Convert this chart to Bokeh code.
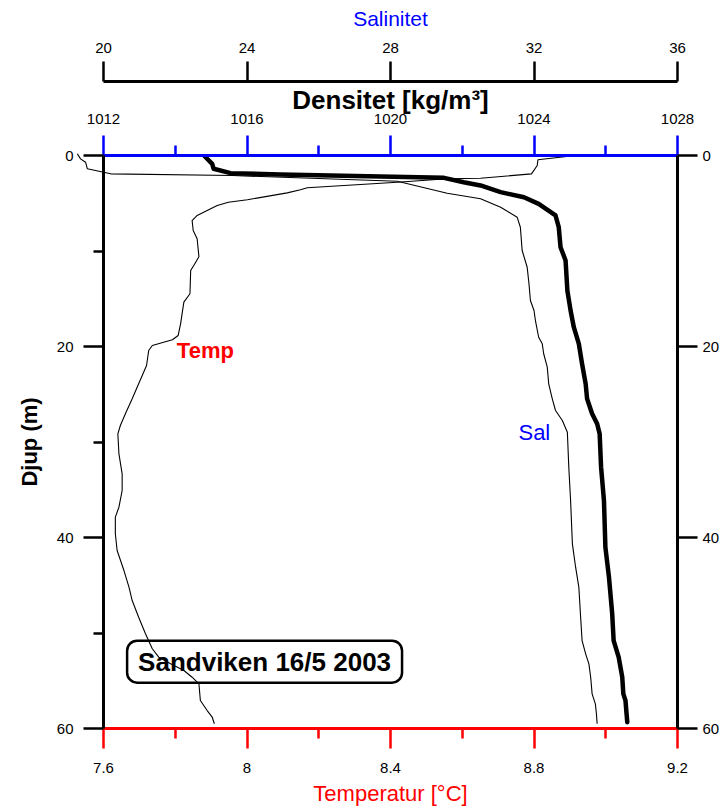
from bokeh.plotting import figure
from bokeh.models import (Range1d, LinearAxis, FixedTicker, CustomJSTickFormatter, Label)
from bokeh.embed import file_html
from bokeh.resources import INLINE

# ---------------- data ----------------
temp_depth = [0.0, 0.45, 1.05, 1.92, 2.38, 2.44, 2.80, 3.38, 3.59, 3.91, 4.64, 4.89, 5.24,
              6.28, 6.81, 7.85, 8.72, 10.6, 11.5, 12.04, 14.48, 15.36, 16.58, 17.6, 18.85,
              19.30, 19.9, 20.42, 21.99, 23.04, 23.9, 25.48, 27.05, 28.27, 29.14, 31.24,
              33.33, 35.08, 36.83, 37.87, 39.61, 41.36, 43.46, 45.2, 46.6, 48.35, 50.08,
              51.65, 52.53, 53.23, 53.93, 54.63, 55.32, 57.07, 58.12, 58.8, 59.5]
temperature = [8.916, 8.811, 8.809, 8.793, 8.651, 8.558, 8.419, 8.168, 8.149, 8.112, 8.001,
               7.948, 7.917, 7.861, 7.847, 7.850, 7.861, 7.866, 7.852, 7.843, 7.841, 7.824,
               7.819, 7.815, 7.808, 7.792, 7.736, 7.726, 7.720, 7.708, 7.698, 7.680, 7.661,
               7.647, 7.640, 7.643, 7.652, 7.652, 7.643, 7.633, 7.633, 7.638, 7.657, 7.671,
               7.680, 7.698, 7.717, 7.736, 7.754, 7.787, 7.824, 7.847, 7.866, 7.870, 7.889,
               7.903, 7.909]

sal_depth = [-0.18, 0.35, 0.70, 1.39, 1.92, 2.10, 2.69, 3.95, 4.53, 5.41, 6.46, 7.51, 9.95,
             11.70, 13.43, 15.18, 16.23, 17.28, 19.03, 19.72, 20.76, 22.17, 23.91, 25.48,
             26.70, 27.75, 28.97, 32.64, 36.13, 40.66, 43.11, 45.20, 48.35, 50.79, 52.18,
             53.23, 54.63, 56.37, 57.42, 58.46, 59.51]
salinity = [19.27, 19.36, 19.50, 19.55, 20.20, 23.6, 28.19, 29.58, 30.51, 31.07, 31.53, 31.62,
            31.67, 31.81, 31.86, 31.90, 32.00, 32.04, 32.13, 32.23, 32.27, 32.37, 32.41,
            32.51, 32.60, 32.79, 32.93, 32.97, 33.02, 33.07, 33.16, 33.25, 33.30, 33.34,
            33.44, 33.53, 33.58, 33.62, 33.71, 33.74, 33.76]

dens_depth = [0.0, 0.87, 1.39, 1.85, 1.99, 2.20, 2.34, 2.80, 3.14, 3.84, 4.37, 5.06, 6.28,
              7.51, 9.60, 10.99, 14.14, 16.23, 17.98, 19.72, 21.81, 23.91, 25.48, 27.05,
              28.09, 29.14, 32.64, 36.13, 41.02, 44.16, 47.99, 50.79, 52.53, 53.58, 54.63,
              56.37, 57.07, 58.46, 59.34]
density = [1014.80, 1015.03, 1015.07, 1015.54, 1016.93, 1019.72, 1021.49, 1022.04, 1022.51,
           1023.07, 1023.72, 1024.13, 1024.60, 1024.69, 1024.74, 1024.88, 1024.93, 1025.02,
           1025.11, 1025.25, 1025.34, 1025.44, 1025.48, 1025.62, 1025.76, 1025.83, 1025.87,
           1025.95, 1025.99, 1026.09, 1026.18, 1026.22, 1026.36, 1026.41, 1026.46, 1026.49,
           1026.55, 1026.58, 1026.60]

temp_ticks = [7.6, 8.0, 8.4, 8.8, 9.2]
temp_minor = [7.8, 8.2, 8.6, 9.0]
sal_ticks = [20, 24, 28, 32, 36]
dens_ticks = [1012, 1016, 1020, 1024, 1028]
dens_minor = [1014, 1018, 1022, 1026]
depth_ticks = [0, 20, 40, 60]
depth_minor = [10, 30, 50]

FONT = "Liberation Sans"
RED = "#FF0000"
BLUE = "#0000FF"

p = figure(width=727, height=810,
           x_range=Range1d(7.6, 9.2), y_range=Range1d(60, 0),
           output_backend="svg", toolbar_location=None,
           min_border_left=103, min_border_right=50,
           min_border_top=155, min_border_bottom=82)
p.extra_x_ranges = {"sal": Range1d(20, 36), "dens": Range1d(1012, 1028)}
p.outline_line_color = None
p.xgrid.visible = False
p.ygrid.visible = False
p.background_fill_color = "white"
p.border_fill_color = "white"


def style_axis(ax, line_color, label_size="15px", standoff=10):
    ax.axis_line_color = line_color
    ax.axis_line_width = 3
    ax.major_tick_line_color = line_color
    ax.major_tick_line_width = 2.5
    ax.major_tick_in = 0
    ax.major_tick_out = 20
    ax.minor_tick_line_color = line_color
    ax.minor_tick_line_width = 2.5
    ax.minor_tick_in = 0
    ax.minor_tick_out = 10
    ax.major_label_text_font = FONT
    ax.major_label_text_font_size = label_size
    ax.major_label_text_color = "black"
    ax.major_label_standoff = standoff
    ax.axis_label_text_font = FONT
    ax.axis_label_text_font_style = "normal"


# bottom temperature axis
bx = p.below[0]
bx.ticker = FixedTicker(ticks=temp_ticks, minor_ticks=temp_minor)
bx.formatter = CustomJSTickFormatter(code="return String(Number(tick.toFixed(2)))")
style_axis(bx, RED, standoff=14)
bx.axis_label = "Temperatur [\u00b0C]"
bx.axis_label_text_color = RED
bx.axis_label_text_font_size = "22px"
bx.axis_label_standoff = 5

# left depth axis
ly = p.left[0]
ly.ticker = FixedTicker(ticks=depth_ticks, minor_ticks=depth_minor)
style_axis(ly, "black", standoff=10)
ly.axis_label = "Djup (m)"
ly.axis_label_text_font_style = "bold"
ly.axis_label_text_font_size = "22px"
ly.axis_label_text_color = "black"
ly.axis_label_standoff = 12

# right depth axis
ry = LinearAxis(ticker=FixedTicker(ticks=depth_ticks, minor_ticks=[]))
style_axis(ry, "black", standoff=5)
ry.minor_tick_line_color = None
p.add_layout(ry, "right")

# density axis (on the frame top)
dx = LinearAxis(x_range_name="dens", ticker=FixedTicker(ticks=dens_ticks, minor_ticks=dens_minor))
style_axis(dx, BLUE, standoff=12)
dx.axis_label = "Densitet [kg/m\u00b3]"
dx.axis_label_text_font_style = "bold"
dx.axis_label_text_font_size = "26px"
dx.axis_label_text_color = "black"
dx.axis_label_standoff = -4
p.add_layout(dx, "above")

# salinity axis (outer top)
sx = LinearAxis(x_range_name="sal", ticker=FixedTicker(ticks=sal_ticks, minor_ticks=[]))
style_axis(sx, "black", standoff=9)
sx.minor_tick_line_color = None
sx.axis_label = "Salinitet"
sx.axis_label_text_color = BLUE
sx.axis_label_text_font_size = "21px"
sx.axis_label_standoff = 10
p.add_layout(sx, "above")

# profiles
p.line(temperature, temp_depth, line_color="black", line_width=1.1)
rs = p.line(salinity, sal_depth, x_range_name="sal", line_color="black", line_width=1.1)
rs.level = "overlay"
p.line(density, dens_depth, x_range_name="dens", line_color="black", line_width=4.5,
       line_join="round", line_cap="round")

# labels
p.add_layout(Label(x=7.884, y=20.4, text="Temp", text_color=RED, text_font=FONT,
                   text_font_style="bold", text_font_size="22px",
                   text_align="center", text_baseline="middle"))
p.add_layout(Label(x=8.801, y=29.0, text="Sal", text_color=BLUE, text_font=FONT,
                   text_font_size="22px", text_align="center", text_baseline="middle"))
p.add_layout(Label(x=8.049, y=53.0, text="Sandviken 16/5 2003", text_color="black",
                   text_font=FONT, text_font_style="bold", text_font_size="26px",
                   text_align="center", text_baseline="middle",
                   border_line_color="black", border_line_width=2.5, border_radius=10,
                   padding=dict(left=11, right=11, top=6, bottom=6)))

open("out.html", "w").write(file_html(p, INLINE))
